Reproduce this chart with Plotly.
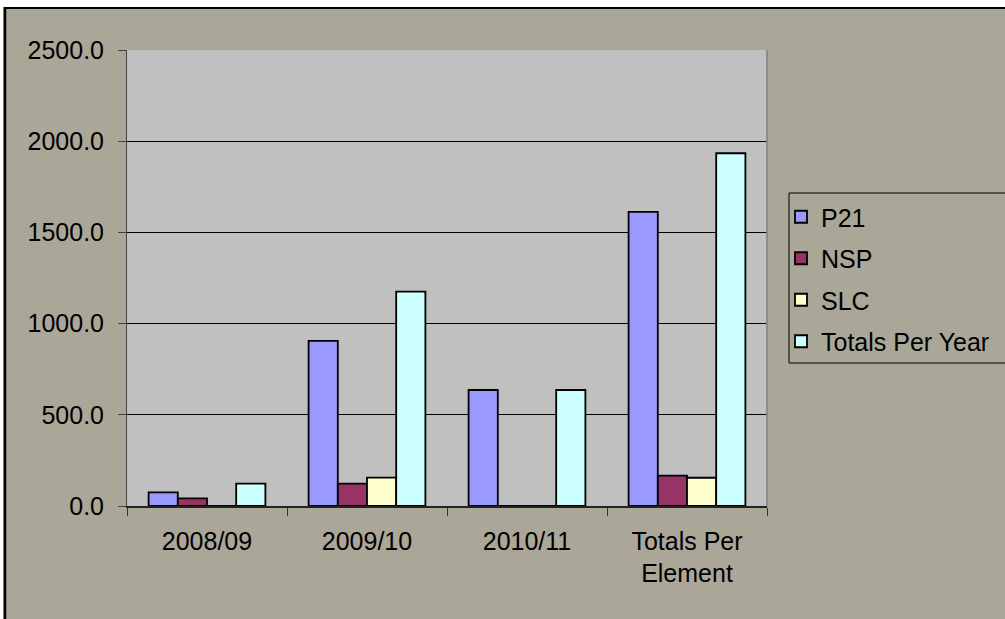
import plotly.graph_objects as go

categories = ["2008/09", "2009/10", "2010/11", "Totals Per<br>Element"]
series_names = ["P21", "NSP", "SLC", "Totals Per Year"]
p21 = [75, 905, 636, 1612]
nsp = [42, 123, 0, 167]
slc = [0, 156, 0, 155]
totals = [123, 1175, 636, 1934]
colors = ["#9999FF", "#993366", "#FFFFCC", "#CCFFFF"]
y_ticks = [0, 500, 1000, 1500, 2000, 2500]

W, H = 1005, 619
ML, MR, MT, MB = 127, 238, 50, 113
PW, PH = W - ML - MR, H - MT - MB
TAN = "#AAA798"
FONT = "Liberation Sans, Arial, sans-serif"


def px_x(x):
    return (x - ML) / PW


def px_y(y):
    return (H - MB - y) / PH


fig = go.Figure()
for name, vals, col in zip(series_names, [p21, nsp, slc, totals], colors):
    fig.add_trace(go.Bar(
        x=categories, y=vals, name=name, legendgroup=name,
        marker=dict(color=col, line=dict(color="black", width=1.8)),
    ))

LB_L, LB_T, LB_B = 789, 193, 363
shapes = [
    dict(type="rect", xref="paper", yref="paper", x0=px_x(-10), x1=px_x(W + 10),
         y0=px_y(7), y1=px_y(-10), fillcolor="white", line=dict(width=0), layer="below"),
    dict(type="rect", xref="paper", yref="paper", x0=px_x(-10), x1=px_x(3),
         y0=px_y(H + 10), y1=px_y(-10), fillcolor="white", line=dict(width=0), layer="below"),
    dict(type="line", xref="paper", yref="paper", x0=px_x(5), x1=px_x(5),
         y0=px_y(7), y1=px_y(H + 10), line=dict(color="black", width=2.5)),
    dict(type="line", xref="paper", yref="paper", x0=px_x(4), x1=px_x(W + 10),
         y0=px_y(8), y1=px_y(8), line=dict(color="black", width=2)),
    dict(type="line", xref="paper", yref="paper", x0=1, x1=1, y0=0, y1=1,
         line=dict(color="#808080", width=1.5)),
    # legend box (open to the right, running off the picture)
    dict(type="line", xref="paper", yref="paper", x0=px_x(LB_L), x1=px_x(LB_L),
         y0=px_y(LB_T), y1=px_y(LB_B), line=dict(color="black", width=1)),
    dict(type="line", xref="paper", yref="paper", x0=px_x(LB_L), x1=px_x(W + 10),
         y0=px_y(LB_T), y1=px_y(LB_T), line=dict(color="black", width=1)),
    dict(type="line", xref="paper", yref="paper", x0=px_x(LB_L), x1=px_x(W + 10),
         y0=px_y(LB_B), y1=px_y(LB_B), line=dict(color="black", width=1)),
]

fig.update_layout(
    width=W, height=H,
    margin=dict(l=ML, r=MR, t=MT, b=MB, pad=0, autoexpand=False),
    paper_bgcolor=TAN, plot_bgcolor="#C0C0C0",
    font=dict(family=FONT, size=25, color="black"),
    barmode="group", bargap=0.27, bargroupgap=0,
    showlegend=True,
    legend=dict(
        x=px_x(781), y=px_y(194), xanchor="left", yanchor="top",
        bgcolor="rgba(0,0,0,0)", borderwidth=0,
        font=dict(family=FONT, size=25, color="black"),
        traceorder="grouped", tracegroupgap=6, itemclick=False,
    ),
    shapes=shapes,
    xaxis=dict(
        type="category", showgrid=False, ticks="outside", tickson="boundaries",
        ticklen=8, tickcolor="#333333", showline=True, linecolor="#222222",
        linewidth=1.5, mirror=False, tickfont=dict(size=25),
        ticklabelstandoff=12,
    ),
    yaxis=dict(
        range=[0, 2500], tickvals=y_ticks, tickformat=".1f",
        ticks="outside", ticklen=8, tickcolor="#444444",
        showgrid=True, gridcolor="black", gridwidth=1,
        showline=True, linecolor="#444444", linewidth=1, zeroline=False,
        tickfont=dict(size=25), ticklabelstandoff=9,
    ),
)

fig.write_html("out.html")
